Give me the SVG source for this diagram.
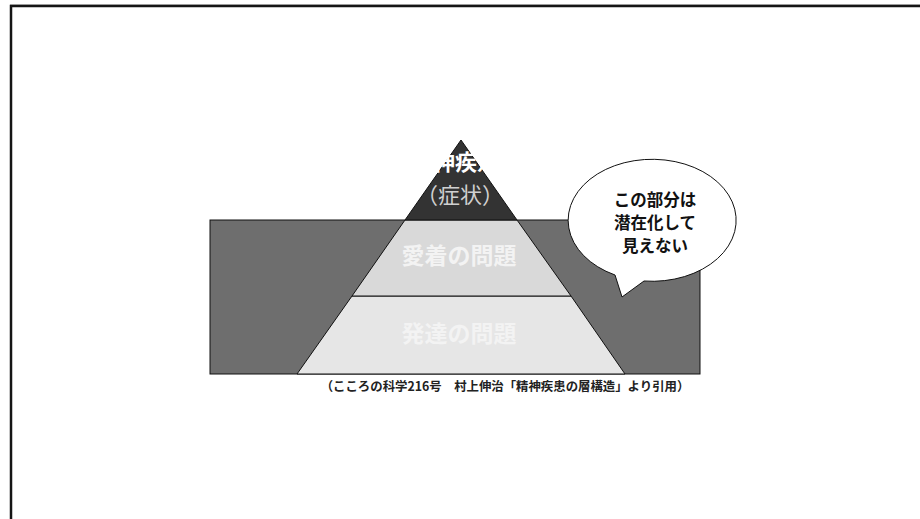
<svg xmlns="http://www.w3.org/2000/svg" width="920" height="519" viewBox="0 0 920 519">
  <style>
    .jp { font-family: "Noto Sans CJK JP", "Noto Sans", sans-serif; text-anchor: middle; }
    .layer { font-size: 23px; font-weight: bold; fill: #f3f3f3; }
    .outline { stroke: #111; stroke-width: 1; }
  </style>
  <defs>
    <clipPath id="topClip">
      <rect x="432" y="140" width="50" height="40"/>
    </clipPath>
  </defs>
  <rect x="0" y="0" width="920" height="519" fill="#ffffff"/>
  <g id="frame">
    <line x1="10" y1="4.5" x2="920" y2="4.5" stroke="#c8c8c8" stroke-width="1"/>
    <path d="M11,520 V6 H921" fill="none" stroke="#151515" stroke-width="2.5"/>
  </g>
  <g id="water">
    <rect x="210" y="220" width="490" height="154" fill="#6e6e6e" class="outline"/>
  </g>
  <g id="layer-bottom">
    <polygon points="352,296 571,296 625,374 297,374" fill="#e6e6e6" class="outline"/>
    <text class="jp layer" x="459" y="342">発達の問題</text>
  </g>
  <g id="layer-middle">
    <polygon points="405,220 517,220 571,296 352,296" fill="#d9d9d9" class="outline"/>
    <text class="jp layer" x="459" y="264">愛着の問題</text>
  </g>
  <g id="layer-top">
    <polygon points="461,140 517,220 405,220" fill="#333333" class="outline"/>
    <text class="jp" x="455" y="170" font-size="22" font-weight="bold" fill="#ffffff" clip-path="url(#topClip)">精神疾患</text>
    <text class="jp" x="460" y="203" font-size="22" fill="#d0d0d0">（症状）</text>
  </g>
  <g id="bubble">
    <path d="M615,275 L622,297 L644,281 A84,61 0 1 0 615,275 Z" fill="#ffffff" stroke="#111" stroke-width="1"/>
    <text class="jp" x="655" y="206" font-size="16.5" font-weight="bold" fill="#111">この部分は</text>
    <text class="jp" x="655" y="229" font-size="16.5" font-weight="bold" fill="#111">潜在化して</text>
    <text class="jp" x="655" y="252" font-size="16.5" font-weight="bold" fill="#111">見えない</text>
  </g>
  <g id="caption">
    <text class="jp" x="505" y="391" font-size="12.4" font-weight="bold" fill="#222">（こころの科学216号　村上伸治「精神疾患の層構造」より引用）</text>
  </g>
</svg>
